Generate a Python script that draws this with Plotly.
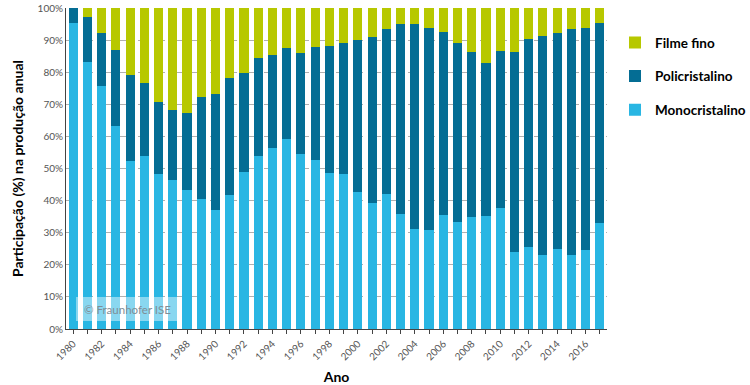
import plotly.graph_objects as go

years = list(range(1980, 2018))
mono = [95.4, 83.3, 75.7, 63.1, 52.4, 53.9, 48.2, 46.3, 43.2, 40.5,
        37.1, 41.8, 48.8, 54.0, 56.5, 59.2, 54.6, 52.6, 48.5, 48.2,
        42.8, 39.4, 42.2, 35.7, 31.3, 30.9, 35.6, 33.3, 35.0, 35.3,
        37.6, 24.1, 25.4, 23.0, 25.0, 23.1, 24.6, 33.0]
poly_top = [100.0, 97.3, 92.1, 86.9, 79.1, 76.6, 70.7, 68.3, 67.2, 72.2,
            73.3, 78.3, 79.9, 84.3, 85.4, 87.4, 85.9, 87.7, 88.2, 89.2,
            89.9, 91.1, 93.5, 95.0, 94.9, 93.8, 92.6, 89.2, 86.2, 83.0,
            86.6, 86.4, 90.4, 91.2, 92.1, 93.4, 93.9, 95.3]
poly = [round(p - m, 1) for p, m in zip(poly_top, mono)]
thin = [round(100 - p, 1) for p in poly_top]

tick_years = list(range(1980, 2018, 2))
y_ticks = list(range(0, 101, 10))

c_mono = "#29b6e3"
c_poly = "#046d94"
c_thin = "#b7c800"

fig = go.Figure()
fig.add_bar(x=years, y=mono, name="Monocristalino", marker_color=c_mono,
            legendgroup="m", legendrank=3)
fig.add_bar(x=years, y=poly, name="Policristalino", marker_color=c_poly,
            legendgroup="p", legendrank=2)
fig.add_bar(x=years, y=thin, name="Filme fino", marker_color=c_thin,
            legendgroup="t", legendrank=1)

fig.update_traces(marker_line_width=0)

fig.update_layout(
    width=750, height=385,
    margin=dict(l=66, r=143, t=8, b=56, autoexpand=False),
    barmode="stack", bargap=0.36,
    plot_bgcolor="white", paper_bgcolor="white",
    font=dict(family="Lato", color="#222"),
    legend=dict(x=1.0148, y=0.94, xanchor="left", yanchor="top",
                font=dict(size=13.5, color="black", family="Lato", weight="bold"),
                tracegroupgap=13, itemwidth=30, bgcolor="rgba(0,0,0,0)"),
    showlegend=True,
)

fig.update_xaxes(
    range=[1979.5, 2017.5], tickmode="array", tickvals=tick_years,
    ticktext=[str(y) for y in tick_years], tickangle=-45,
    tickfont=dict(size=10, color="#555"),
    ticks="outside", ticklen=4, tickcolor="#444",
    minor=dict(dtick=1, tick0=1980, ticks="outside", ticklen=4, tickcolor="#444"),
    showline=True, linecolor="#444", linewidth=1, showgrid=False,
    automargin=False,
    title=dict(text="Ano", font=dict(size=14, color="black", weight="bold"), standoff=10),
)
fig.update_yaxes(
    range=[0, 100], tickmode="array", tickvals=y_ticks,
    ticktext=[f"{v}%" for v in y_ticks],
    tickfont=dict(size=10, color="#555"),
    showline=True, linecolor="#444", linewidth=1,
    showgrid=True, gridcolor="#b0b0b0", griddash="dash", gridwidth=1,
    automargin=False,
    title=dict(text="Participação (%) na produção anual",
               font=dict(size=14, color="black", weight="bold"), standoff=10),
)

fig.add_shape(type="rect", xref="paper", yref="paper",
              x0=0.0185, x1=0.207, y0=0.025, y1=0.0997,
              fillcolor="rgba(255,255,255,0.45)", line_width=0, layer="above")
fig.add_annotation(text="© Fraunhofer ISE", xref="paper", yref="paper",
                   x=0.113, y=0.062, xanchor="center", yanchor="middle",
                   showarrow=False,
                   font=dict(size=11.5, color="#7f8e96", family="Lato"))

fig.write_html("out.html", config={"displayModeBar": False},
               post_script="document.body.style.margin='0';document.body.style.padding='0';")
